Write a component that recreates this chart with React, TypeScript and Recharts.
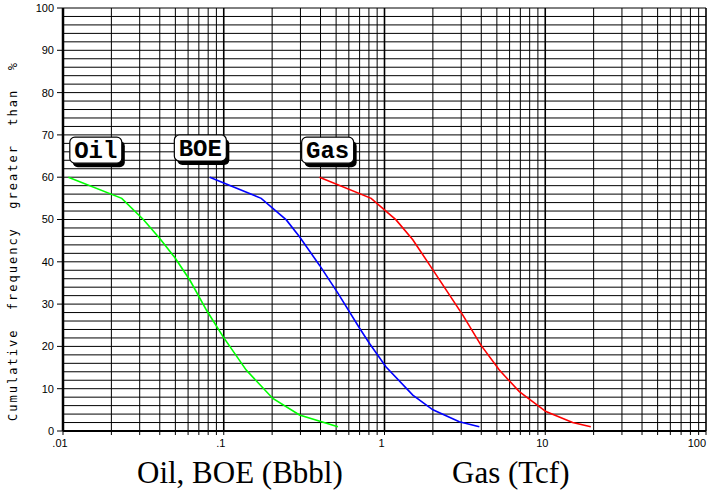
import React from 'react';
import { LineChart, Line, XAxis, YAxis, ReferenceLine, ReferenceDot } from 'recharts';

const oilX = [0.0108, 0.0232, 0.0316, 0.040, 0.0496, 0.0615, 0.078, 0.099, 0.138, 0.202, 0.296, 0.513];
const oilY = [60, 55, 50, 45.5, 41, 35.7, 28.6, 22.3, 14.4, 7.7, 3.8, 1.0];

const boeX = [0.0818, 0.171, 0.245, 0.296, 0.394, 0.513, 0.70, 0.807, 1.02, 1.50, 2.0, 2.92, 3.89];
const boeY = [60, 55, 49.9, 45.9, 39.2, 32.6, 24.3, 20.7, 15.2, 8.5, 5.0, 2.2, 1.0];

const gasX = [0.394, 0.826, 1.18, 1.50, 2.0, 3.07, 3.98, 5.18, 6.90, 10.1, 14.8, 19.2];
const gasY = [60, 55, 49.9, 45.2, 38.1, 27.4, 20.3, 14.4, 9.3, 4.6, 2.0, 1.0];

const decades = [0.01, 0.1, 1, 10, 100];
const decadeLabels = ['.01', '.1', '1', '10', '100'];
const multipliers = [1, 2, 3, 4, 5, 6, 7, 8, 9];
const yTicks = [0, 10, 20, 30, 40, 50, 60, 70, 80, 90, 100];
const yGrid = [2, 4, 6, 8, 10, 12, 14, 16, 18, 20, 22, 24, 26, 28, 30, 32, 34, 36, 38, 40, 42, 44, 46, 48, 50,
  52, 54, 56, 58, 60, 62, 64, 66, 68, 70, 72, 74, 76, 78, 80, 82, 84, 86, 88, 90, 92, 94, 96, 98, 100];

const labelNames = ['Oil', 'BOE', 'Gas'];
const labelX = [0.016, 0.0715, 0.443];
const labelY = [66.4, 66.9, 66.4];

const xGrid: number[] = [];
decades.slice(0, 4).forEach((d) => multipliers.forEach((m) => xGrid.push(parseFloat((d * m).toPrecision(3)))));
xGrid.push(100);

const toPts = (xs: number[], ys: number[]) => xs.map((x, i) => ({ x, y: ys[i] }));
const oilData = toPts(oilX, oilY);
const boeData = toPts(boeX, boeY);
const gasData = toPts(gasX, gasY);

const decadeIndex = (v: number) => decades.findIndex((d) => Math.abs(d - v) < d * 1e-6);

const XTick = (props: any) => {
  const { x, y, payload } = props;
  const i = decadeIndex(payload.value);
  if (i < 0) return null;
  const last = i === decades.length - 1;
  return (
    <text x={last ? x : x - 3} y={y} dy="0.71em" textAnchor={last ? 'end' : 'middle'} fill="#000" fontSize={11}
      fontFamily="'Liberation Sans', Arial, sans-serif">{decadeLabels[i]}</text>
  );
};

const LabelBox = (props: any) => {
  const { cx, cy, text } = props;
  const w = 52;
  const h = 26;
  const x = cx - w / 2;
  const y = cy - h / 2;
  return (
    <g>
      <rect x={x + 3} y={y + 4} width={w} height={h} rx={5} ry={5} fill="#000" />
      <rect x={x} y={y} width={w} height={h} rx={5} ry={5} fill="#fff" stroke="#000" strokeWidth={1.2} />
      <text x={cx} y={cy + 8} textAnchor="middle" fontFamily="'Liberation Mono', 'Courier New', monospace"
        fontWeight="bold" fontSize={24} fill="#000">{text}</text>
    </g>
  );
};

export default function App() {
  return (
    <div style={{ position: 'absolute', left: 0, top: 0, width: 707, height: 495, background: '#fff' }}>
      <LineChart width={707} height={495} margin={{ top: 8, right: 1, left: 0, bottom: 44 }}>
        <XAxis dataKey="x" type="number" scale="log" domain={[0.01, 100]} allowDataOverflow
          ticks={xGrid} interval={0} height={20}
          axisLine={{ stroke: '#000', strokeWidth: 2 }} tickLine={{ stroke: '#000' }} tickSize={4} tickMargin={4}
          tick={<XTick />} />
        <YAxis dataKey="y" type="number" domain={[0, 100]} ticks={yTicks} interval={0} width={63}
          axisLine={{ stroke: '#000', strokeWidth: 2.5 }} tickLine={{ stroke: '#000' }} tickSize={6} tickMargin={3}
          tick={{ fill: '#000', fontSize: 11, fontFamily: "'Liberation Sans', Arial, sans-serif" }} />
        {yGrid.map((v) => (
          <ReferenceLine key={'h' + v} y={v} stroke="#000" strokeWidth={1} />
        ))}
        {xGrid.filter((v) => v > 0.01).map((v) => (
          <ReferenceLine key={'v' + v} x={v} stroke="#000" strokeWidth={decadeIndex(v) >= 0 ? 1.6 : 1} />
        ))}
        <Line data={oilData} dataKey="y" type="linear" stroke="#00ff00" strokeWidth={1.6} dot={false} isAnimationActive={false} />
        <Line data={boeData} dataKey="y" type="linear" stroke="#0000ff" strokeWidth={1.6} dot={false} isAnimationActive={false} />
        <Line data={gasData} dataKey="y" type="linear" stroke="#ff0000" strokeWidth={1.6} dot={false} isAnimationActive={false} />
        {labelNames.map((n, i) => (
          <ReferenceDot key={n} x={labelX[i]} y={labelY[i]} r={1}
            shape={(p: any) => <LabelBox cx={p.cx} cy={p.cy} text={n} />} />
        ))}
      </LineChart>
      <svg width={707} height={495} style={{ position: 'absolute', left: 0, top: 0, pointerEvents: 'none' }}>
        <g transform="translate(17,241) rotate(-90)">
          <text x={0} y={0} textAnchor="middle" fontFamily="'DejaVu Sans Mono', monospace" fontSize={12}
            letterSpacing={2} fill="#000" xmlSpace="preserve" style={{ whiteSpace: 'pre' }}>
            {'Cumulative  frequency  greater  than  %'}
          </text>
        </g>
        <text x={137} y={483} fontFamily="'Liberation Serif', 'Times New Roman', serif" fontSize={31} fill="#000">Oil, BOE (Bbbl)</text>
        <text x={452} y={483} fontFamily="'Liberation Serif', 'Times New Roman', serif" fontSize={31} fill="#000">Gas (Tcf)</text>
      </svg>
    </div>
  );
}
